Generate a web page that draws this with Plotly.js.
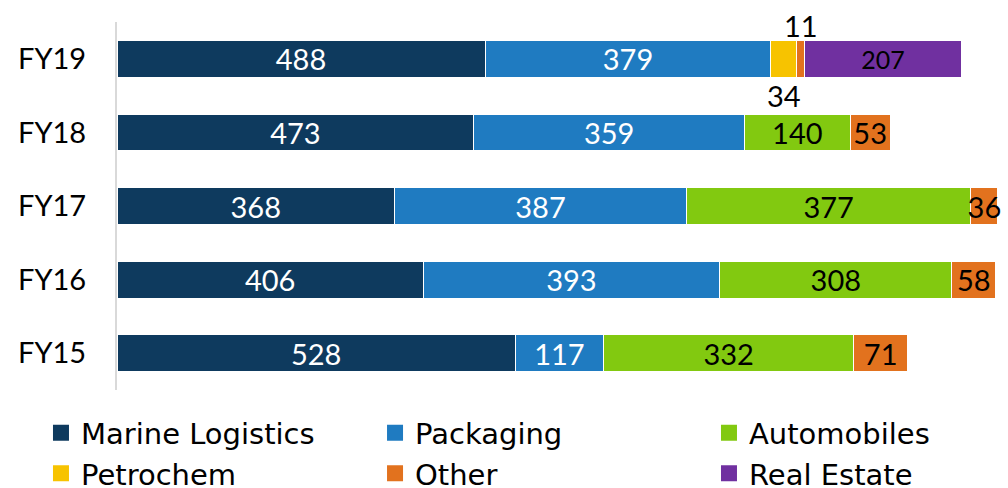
<!DOCTYPE html>
<html>
<head>
<meta charset="utf-8">
<script src="https://cdn.plot.ly/plotly-3.0.1.min.js"></script>
<style>html,body{margin:0;padding:0;background:#fff}#chart{width:1008px;height:488px}</style>
</head>
<body>
<div id="chart"></div>
<script>
// Data (bottom to top)
const years = ["FY15", "FY16", "FY17", "FY18", "FY19"];
const marine = [528, 406, 368, 473, 488];
const packaging = [117, 393, 387, 359, 379];
const automobiles = [332, 308, 377, 140, null];
const petrochem = [null, null, null, null, 34];
const other = [71, 58, 36, 53, 11];
const realEstate = [null, null, null, null, 207];

const FONT = "Lato, 'Open Sans', sans-serif";
const LEGFONT = "'DejaVu Sans', sans-serif";
const labelSize = 29;

// legend: one vertical legend per column (3 columns x 2 rows)
const series = [
  {name: 'Marine Logistics', vals: marine, color: '#0e3a5e', txt: '#ffffff', leg: 'legend'},
  {name: 'Packaging', vals: packaging, color: '#1f7bc1', txt: '#ffffff', leg: 'legend2'},
  {name: 'Automobiles', vals: automobiles, color: '#82c910', txt: '#000000', leg: 'legend3'},
  {name: 'Petrochem', vals: petrochem, color: '#f7c300', txt: '#000000', hide: [4], leg: 'legend'},
  {name: 'Other', vals: other, color: '#e2721e', txt: '#000000', hide: [4], leg: 'legend2'},
  {name: 'Real Estate', vals: realEstate, color: '#7030a0', txt: '#000000', size: 25, leg: 'legend3'}
];

const traces = [];
series.forEach(s => {
  traces.push({
    type: 'bar', orientation: 'h', name: s.name, legendgroup: s.name, showlegend: false,
    y: years, x: s.vals,
    marker: {color: s.color, line: {color: '#ffffff', width: 1}},
    text: s.vals.map((v, i) => (v == null || (s.hide || []).includes(i)) ? '' : String(v)),
    textposition: 'inside', insidetextanchor: 'middle', constraintext: 'none', textangle: 0,
    textfont: {family: FONT, size: s.size || labelSize, color: s.txt},
    hoverinfo: 'x+name'
  });
});
series.forEach(s => {
  traces.push({
    type: 'scatter', mode: 'markers', name: s.name, legendgroup: s.name, legend: s.leg,
    x: [null], y: [null], showlegend: true,
    marker: {symbol: 'square', size: 18, color: s.color}
  });
});

// outside labels for small FY19 segments
const i19 = 4;
const base19 = marine[i19] + packaging[i19] + (automobiles[i19] || 0);
const annotations = [
  {x: base19 + petrochem[i19] / 2, y: years[i19], text: String(petrochem[i19]), yshift: -37},
  {x: base19 + petrochem[i19] + other[i19] / 2, y: years[i19], text: String(other[i19]), yshift: 33}
].map(a => Object.assign({xref: 'x', yref: 'y', showarrow: false,
  font: {family: FONT, size: labelSize, color: '#000000'}}, a));

function leg(x) {
  return {orientation: 'v', xref: 'paper', yref: 'paper', x: x, y: -0.047,
          xanchor: 'left', yanchor: 'top', traceorder: 'normal',
          font: {family: LEGFONT, size: 29, color: '#000000'},
          itemsizing: 'trace', tracegroupgap: 0, bgcolor: 'rgba(0,0,0,0)'};
}

const layout = {
  width: 1008, height: 488,
  margin: {l: 117, r: 4, t: 22, b: 98, autoexpand: false},
  barmode: 'stack', bargap: 0.5,
  paper_bgcolor: '#ffffff', plot_bgcolor: '#ffffff',
  font: {family: FONT, color: '#000000'},
  xaxis: {range: [0, 1176], visible: false, fixedrange: true},
  yaxis: {type: 'category', categoryarray: years, categoryorder: 'array', range: [-0.5, 4.5],
          autorange: false, showline: true, linecolor: '#d9d9d9', linewidth: 2, showgrid: false, zeroline: false,
          ticks: '', ticklabelstandoff: 23, tickfont: {family: FONT, size: 29, color: '#000000'}},
  showlegend: true,
  legend: leg(-0.0857),
  legend2: leg(0.2909),
  legend3: leg(0.6674),
  annotations: annotations
};

Plotly.newPlot('chart', traces, layout, {displayModeBar: false, staticPlot: true});
</script>
</body>
</html>
